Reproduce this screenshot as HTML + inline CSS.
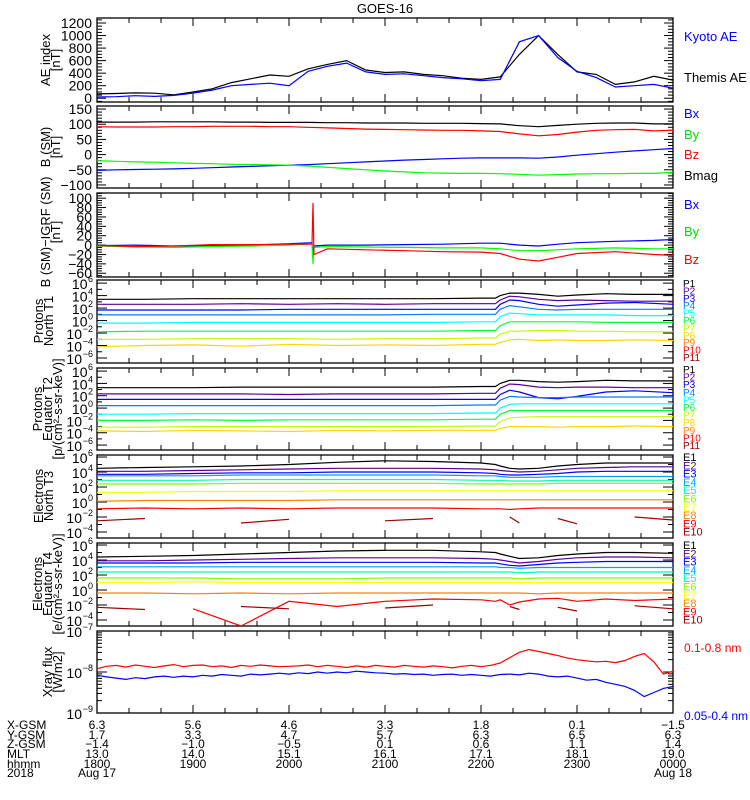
<!DOCTYPE html>
<html><head><meta charset="utf-8"><title>GOES-16</title>
<style>
html,body{margin:0;padding:0;background:#fff;}
svg{display:block;font-family:"Liberation Sans",sans-serif;}
</style></head>
<body>
<svg id="chart" width="750" height="800" viewBox="0 0 750 800" xmlns="http://www.w3.org/2000/svg"></svg>
<script>
// ---------- data ----------
const tA = [18.0,18.2,18.4,18.6,18.8,19.0,19.2,19.4,19.6,19.8,20.0,20.2,20.4,20.6,20.8,21.0,21.2,21.4,21.6,21.8,22.0,22.2,22.4,22.6,22.8,23.0,23.2,23.4,23.6,23.8,24.0];
const themisAE = [70,75,85,80,55,100,150,250,310,370,350,470,540,600,450,410,420,380,360,320,300,340,700,1000,700,420,380,220,260,350,290];
const kyotoAE  = [20,25,40,30,45,80,130,200,220,240,200,430,510,560,420,380,390,360,330,310,280,300,900,1000,650,430,330,180,200,220,160];

const bmagSM = [107,107,107,108,108,108,108,107,107,106,106,106,105,105,104,104,104,103,103,103,102,101,95,92,96,100,103,104,104,101,101];
const bzSM   = [92,91,91,91,92,92,93,93,93,92,92,90,88,86,84,83,82,81,80,80,78,76,68,62,66,74,80,82,83,78,80];
const bxSM   = [-52,-50,-49,-48,-47,-45,-43,-41,-39,-37,-35,-33,-30,-27,-24,-21,-18,-16,-14,-12,-11,-11,-11,-12,-8,-2,3,8,12,16,20];
const bySM   = [-20,-22,-24,-25,-27,-29,-30,-32,-33,-34,-35,-38,-42,-46,-50,-54,-57,-60,-61,-62,-62,-63,-65,-68,-66,-64,-63,-63,-62,-62,-58];

const t3 = [18,18.4,18.8,19.2,19.6,20.0,20.24,20.25,20.26,20.4,20.8,21.2,21.6,22.0,22.2,22.4,22.6,22.8,23.0,23.4,23.8,24];
const dBz = [-1,-3,-2,1,1,2,2,90,-20,-8,-10,-12,-14,-15,-18,-30,-34,-26,-18,-14,-20,-22];
const dBy = [-2,-4,-5,-3,-2,0,3,-40,-5,-3,-4,-5,-6,-6,-8,-12,-12,-10,-8,-6,-8,-8];
const dBx = [-1,0,-2,-1,0,3,5,-20,-2,0,0,1,2,4,4,0,-2,2,5,8,10,12];

const tL = [18,18.5,19,19.5,20,20.5,21,21.5,22,22.15,22.2,22.3,22.4,22.6,22.8,23,23.3,23.6,24];
const pT1_1 = [3.4,3.4,3.5,3.5,3.5,3.5,3.5,3.5,3.6,3.6,4.0,4.4,4.4,4.2,3.9,4.1,4.3,4.2,4.2];
const pT1_2 = [2.6,2.6,2.6,2.7,2.6,2.7,2.6,2.7,2.7,2.7,3.3,3.9,3.8,3.4,3.2,3.3,3.2,3.1,3.1];
const pT1_3 = [1.7,1.7,1.7,1.7,1.8,1.8,1.8,1.8,1.8,1.8,2.6,3.3,3.2,2.6,2.3,2.5,2.8,2.9,2.6];
const pT1_4 = [0.9,0.9,0.9,0.9,0.9,0.9,0.9,1.0,1.0,1.0,1.8,2.4,2.2,1.8,1.7,1.8,1.8,1.8,1.8];
const pT1_5 = [-0.4,-0.4,-0.3,-0.3,-0.3,-0.3,-0.3,-0.3,-0.2,-0.2,0.6,1.2,1.1,0.9,0.9,0.9,0.9,0.8,0.8];
const pT1_6 = [-1.8,-1.7,-1.7,-1.7,-1.7,-1.7,-1.7,-1.7,-1.6,-1.6,-0.8,-0.2,-0.2,-0.2,-0.2,-0.2,-0.3,-0.3,-0.3];
const pT1_7 = [-3.0,-3.0,-2.9,-2.9,-2.9,-3.0,-2.9,-2.9,-2.8,-2.8,-2.2,-1.7,-1.7,-1.6,-1.6,-1.7,-1.7,-1.8,-1.8];
const pT1_8 = [-4.2,-4.0,-3.9,-4.1,-3.8,-4.0,-3.9,-4.0,-3.8,-3.8,-3.5,-3.1,-3.0,-3.2,-3.1,-3.2,-3.2,-3.1,-3.2];
const pT2_1 = [3.3,3.3,3.3,3.4,3.4,3.4,3.4,3.4,3.5,3.5,4.0,4.5,4.5,4.3,4.2,4.3,4.5,4.4,4.4];
const pT2_2 = [2.3,2.3,2.3,2.3,2.2,2.3,2.3,2.3,2.4,2.4,3.2,3.9,3.8,3.4,3.3,3.4,3.4,3.3,3.3];
const pT2_3 = [1.4,1.4,1.4,1.4,1.4,1.4,1.4,1.4,1.4,1.4,2.2,2.9,2.6,1.7,1.5,1.9,2.6,2.8,2.5];
const pT2_4 = [0.4,0.4,0.4,0.4,0.4,0.4,0.4,0.4,0.5,0.5,1.3,1.9,1.8,1.7,1.7,1.8,1.8,1.8,1.8];
const pT2_5 = [-1.0,-1.0,-0.9,-0.9,-0.9,-0.9,-0.9,-0.9,-0.8,-0.8,0.0,0.6,0.7,0.7,0.7,0.7,0.7,0.7,0.7];
const pT2_6 = [-2.0,-2.0,-1.9,-2.0,-1.9,-1.9,-1.9,-1.9,-1.8,-1.8,-1.0,-0.4,-0.4,-0.4,-0.4,-0.4,-0.4,-0.4,-0.4];
const pT2_7 = [-3.1,-3.1,-3.0,-3.0,-3.0,-3.0,-3.0,-3.0,-2.9,-2.9,-2.2,-1.6,-1.5,-1.4,-1.4,-1.4,-1.4,-1.4,-1.4];
const pT2_8 = [-3.7,-3.8,-3.6,-3.7,-3.8,-3.6,-3.7,-3.6,-3.6,-3.6,-3.3,-3.0,-3.0,-3.0,-3.1,-3.0,-3.0,-2.9,-3.0];
const eT3_1 = [4.5,4.6,4.7,4.8,5.0,5.3,5.5,5.4,5.2,5.0,4.8,4.5,4.4,4.5,4.8,5.0,5.2,5.2,5.2];
const eT3_2 = [4.1,4.1,4.2,4.3,4.4,4.5,4.5,4.5,4.4,4.3,4.2,4.1,4.0,4.1,4.3,4.5,4.6,4.7,4.7];
const eT3_3 = [3.7,3.7,3.8,3.9,3.9,4.0,4.0,4.0,3.9,3.8,3.7,3.6,3.6,3.7,3.8,4.0,4.1,4.1,4.1];
const eT3_4 = [3.5,3.5,3.5,3.6,3.6,3.6,3.6,3.6,3.5,3.5,3.4,3.3,3.3,3.3,3.4,3.4,3.4,3.4,3.4];
const eT3_5 = [2.9,2.9,2.9,3.0,3.0,3.0,3.0,3.0,2.9,2.9,2.9,2.8,2.8,2.8,2.9,2.9,2.9,2.9,2.9];
const eT3_6 = [2.4,2.4,2.4,2.5,2.5,2.5,2.5,2.5,2.4,2.4,2.4,2.4,2.4,2.4,2.5,2.5,2.5,2.5,2.5];
const eT3_7 = [1.3,1.3,1.4,1.4,1.4,1.5,1.5,1.5,1.5,1.5,1.5,1.5,1.5,1.5,1.5,1.5,1.5,1.5,1.5];
const eT3_8 = [0.1,0.2,0.2,0.2,0.2,0.3,0.3,0.3,0.3,0.3,0.3,0.3,0.3,0.3,0.3,0.3,0.3,0.3,0.3];
const eT3_9 = [-0.9,-0.8,-0.9,-0.8,-0.9,-0.8,-0.8,-0.8,-0.9,-0.9,-0.9,-1.0,-0.9,-0.8,-0.8,-0.8,-0.8,-0.8,-0.8];
const eT3_10 = [-2.5,-2.2,null,-2.8,-2.3,null,-2.5,-2.2,null,-2.6,null,-2.0,-2.8,null,-2.2,-2.9,null,-2.0,-2.4];
const eT4_1 = [4.4,4.5,4.6,4.8,5.0,5.2,5.3,5.3,5.1,5.0,4.8,4.5,4.2,4.3,4.6,4.8,5.0,5.0,4.9];
const eT4_2 = [3.9,3.9,4.0,4.1,4.2,4.3,4.3,4.3,4.2,4.1,4.0,3.8,3.6,3.8,4.1,4.3,4.4,4.4,4.3];
const eT4_3 = [3.6,3.6,3.6,3.7,3.7,3.7,3.7,3.7,3.6,3.6,3.5,3.3,3.2,3.4,3.6,3.7,3.8,3.8,3.8];
const eT4_4 = [3.1,3.1,3.1,3.1,3.1,3.1,3.1,3.1,3.1,3.1,3.0,3.0,2.9,3.0,3.0,3.0,3.0,3.0,3.0];
const eT4_5 = [2.4,2.4,2.4,2.4,2.4,2.4,2.4,2.4,2.4,2.4,2.4,2.4,2.3,2.4,2.4,2.4,2.4,2.4,2.4];
const eT4_6 = [1.6,1.6,1.6,1.5,1.5,1.5,1.6,1.6,1.6,1.6,1.6,1.6,1.5,1.6,1.6,1.6,1.6,1.6,1.6];
const eT4_7 = [1.0,1.0,1.1,1.0,1.0,1.0,1.0,1.0,1.0,1.0,1.0,1.0,1.0,1.0,1.0,1.0,1.0,1.0,1.0];
const eT4_8 = [-0.4,-0.4,-0.5,-0.4,-0.5,-0.4,-0.4,-0.4,-0.4,-0.4,-0.4,-0.4,-0.4,-0.5,-0.4,-0.4,-0.4,-0.4,-0.4];
const eT4_9 = [-2.0,null,-2.5,-4.8,-1.5,-2.2,-1.5,-1.2,-1.3,-1.5,-1.3,-2.0,-1.6,-1.2,-1.1,-1.5,-1.2,-1.4,-1.2];
const eT4_10 = [-2.3,-2.6,null,-2.2,-2.5,null,-2.4,-2.0,null,-2.7,null,-2.2,-2.6,null,-2.3,-2.8,null,-2.1,-2.5];

const tX = [18.0,18.1,18.2,18.3,18.4,18.5,18.6,18.7,18.8,18.9,19.0,19.1,19.2,19.3,19.4,19.5,19.6,19.7,19.8,19.9,20.0,20.1,20.2,20.3,20.4,20.5,20.6,20.7,20.8,20.9,21.0,21.1,21.2,21.3,21.4,21.5,21.6,21.7,21.8,21.9,22.0,22.1,22.2,22.3,22.4,22.5,22.6,22.7,22.8,22.9,23.0,23.1,23.2,23.3,23.4,23.5,23.6,23.7,23.8,23.9,24.0];
const xrayLong = [-7.92,-7.86,-7.84,-7.88,-7.83,-7.86,-7.89,-7.85,-7.82,-7.87,
 -7.84,-7.83,-7.87,-7.85,-7.89,-7.84,-7.86,-7.83,-7.85,-7.87,
 -7.86,-7.85,-7.83,-7.87,-7.84,-7.86,-7.89,-7.85,-7.88,-7.84,
 -7.86,-7.88,-7.84,-7.86,-7.88,-7.85,-7.87,-7.9,-7.86,-7.84,
 -7.87,-7.84,-7.78,-7.65,-7.52,-7.45,-7.5,-7.55,-7.6,-7.66,
 -7.7,-7.73,-7.75,-7.74,-7.77,-7.72,-7.62,-7.55,-7.75,-8.05,-7.98];
const xrayShort = [-8.08,-8.12,-8.15,-8.18,-8.14,-8.16,-8.12,-8.1,-8.13,-8.1,
 -8.12,-8.08,-8.1,-8.06,-8.08,-8.1,-8.05,-8.07,-8.05,-8.03,
 -8.05,-8.02,-8.04,-8.0,-8.03,-8.0,-8.02,-7.98,-8.0,-8.02,
 -8.03,-8.05,-8.04,-8.06,-8.05,-8.08,-8.06,-8.05,-8.08,-8.06,
 -8.08,-8.1,-8.06,-8.05,-8.07,-8.03,-8.05,-8.1,-8.12,-8.1,
 -8.15,-8.2,-8.18,-8.25,-8.3,-8.35,-8.45,-8.6,-8.5,-8.4,-8.35];

const tickHours = [18,19,20,21,22,23,24];
const rowNames = ["X-GSM","Y-GSM","Z-GSM","MLT","hhmm","2018"];
const xgsm = ["6.3","5.6","4.6","3.3","1.8","0.1","-1.5"];
const ygsm = ["1.7","3.3","4.7","5.7","6.3","6.5","6.3"];
const zgsm = ["-1.4","-1.0","-0.5","0.1","0.6","1.1","1.4"];
const mlt  = ["13.0","14.0","15.1","16.1","17.1","18.1","19.0"];
const hhmm = ["1800","1900","2000","2100","2200","2300","0000"];
const dates = ["Aug 17","","","","","","Aug 18"];

const PC = ["#000000","#5a0096","#0000ff","#0080ff","#00ffff","#00ff40","#c0ff00","#ffd700","#ff8000","#ff0000","#a00000"];
const EC = ["#000000","#5a0096","#0000ff","#00a0ff","#00ffb0","#80ff00","#ffff00","#ff8000","#ff0000","#a00000"];

// ---------- drawing ----------
const NS = "http://www.w3.org/2000/svg";
const svg = document.getElementById("chart");
const L = 97, R = 673;
const X = h => L + (h - 18) * (R - L) / 6;
function el(tag, attrs, parent){ const e = document.createElementNS(NS, tag); for (const k in attrs) e.setAttribute(k, attrs[k]); (parent||svg).appendChild(e); return e; }
function txt(x, y, s, opts, parent){
  const e = el("text", Object.assign({x:x, y:y, "font-size":13, fill:"#000"}, opts||{}), parent);
  e.textContent = s; return e;
}

const panels = [
 {id:"ae", top:18, bot:102, min:-60, max:1280, type:"lin", major:200, minor:50, labels:[0,200,400,600,800,1000,1200]},
 {id:"bsm", top:106, bot:188, min:-110, max:160, type:"lin", major:50, minor:10, labels:[-100,-50,0,50,100,150]},
 {id:"bigrf", top:193, bot:277, min:-68, max:111, type:"lin", major:20, minor:5, labels:[-60,-40,-20,0,20,40,60,80,100]},
 {id:"pt1", top:280, bot:363, min:-6.8, max:6.5, type:"log", labels:[-6,-4,-2,0,2,4,6]},
 {id:"pt2", top:368, bot:450, min:-6.8, max:6.5, type:"log", labels:[-6,-4,-2,0,2,4,6]},
 {id:"et3", top:455, bot:538, min:-4.8, max:6.27, type:"log", labels:[-4,-2,0,2,4,6]},
 {id:"et4", top:543, bot:626, min:-4.8, max:6.27, type:"log", labels:[-4,-2,0,2,4,6]},
 {id:"xray", top:631, bot:713, min:-9, max:-7, type:"logfine", labels:[-9,-8,-7]}
];
function Yf(p){ return v => p.top + (p.max - v) / (p.max - p.min) * (p.bot - p.top); }

txt(385, 13, "GOES-16", {"text-anchor":"middle",  });

const defs = el("defs", {});
panels.forEach(p => {
  const g = el("g", {});
  
  
  p.g = g;
  const cp = el("clipPath", {id:"clip-" + p.id}, defs);
  el("rect", {x:L, y:p.top, width:R-L, height:p.bot-p.top}, cp);
  const Y = Yf(p);
  const tk = [];
  if (p.type === "lin") {
    for (let v = Math.ceil(p.min/p.minor)*p.minor; v <= p.max; v += p.minor) {
      const isMaj = Math.abs(v % p.major) < 1e-6;
      tk.push([Y(v), isMaj ? 9 : 5]);
    }
  } else if (p.type === "log") {
    for (let v = Math.ceil(p.min); v <= p.max; v++) tk.push([Y(v), (v % 2 === 0) ? 10 : 5]);
  } else {
    for (let d = -9; d < -7; d++) for (let m = 1; m < 10; m++) {
      const v = d + Math.log10(m); tk.push([Y(v), m === 1 ? 10 : 5]);
    }
  }
  tk.forEach(([y, len]) => {
    el("line", {x1:L, y1:y, x2:L+len, y2:y, stroke:"#000", "stroke-width":1}, g);
    el("line", {x1:R, y1:y, x2:R-len, y2:y, stroke:"#000", "stroke-width":1}, g);
  });
  for (let m = 0; m <= 360; m += 20) {
    const x = X(18 + m/60), len = (m % 60 === 0) ? 8 : 5;
    el("line", {x1:x, y1:p.bot, x2:x, y2:p.bot-len, stroke:"#000"}, g);
    el("line", {x1:x, y1:p.top, x2:x, y2:p.top+len, stroke:"#000"}, g);
  }
  p.labels.forEach(v => {
    const y = Y(v);
    if (p.type === "lin") {
      txt(L-5, y+5, String(v).replace("-", "\u2212"), {"text-anchor":"end", "font-size":14,  }, g);
    } else {
      const ex = String(v).replace("-", "\u2212");
      const ew = ex.length * 5.5;
      txt(L-4-ew, y+6, "10", {"text-anchor":"end", "font-size":14,  }, g);
      txt(L-4, y-1, ex, {"text-anchor":"end", "font-size":9,  }, g);
    }
  });
  el("rect", {x:L, y:p.top, width:R-L, height:p.bot-p.top, fill:"none", stroke:"#000", "stroke-width":1.3}, g);
});

function series(p, ts, vs, color, name){
  const Y = Yf(p);
  let d = "", pen = false;
  for (let i = 0; i < ts.length; i++) {
    if (vs[i] === null) { pen = false; continue; }
    d += (pen ? "L" : "M") + X(ts[i]).toFixed(1) + " " + Y(vs[i]).toFixed(1) + " ";
    pen = true;
  }
  const e = el("path", {d:d, fill:"none", stroke:color, "stroke-width":1.2, "clip-path":"url(#clip-" + p.id + ")"}, p.g);
  
  
  return e;
}
const P = {}; panels.forEach(p => P[p.id] = p);

series(P.ae, tA, themisAE, "#000", "themis-ae-line");
series(P.ae, tA, kyotoAE, "#0000ff", "kyoto-ae-line");
series(P.bsm, tA, bmagSM, "#000", "bmag-line");
series(P.bsm, tA, bzSM, "#ff0000", "bz-line");
series(P.bsm, tA, bxSM, "#0000ff", "bx-line");
series(P.bsm, tA, bySM, "#00ff00", "by-line");
series(P.bigrf, t3, dBx, "#0000ff", "dbx-line");
series(P.bigrf, t3, dBy, "#00ff00", "dby-line");
series(P.bigrf, t3, dBz, "#ff0000", "dbz-line");
[pT1_1,pT1_2,pT1_3,pT1_4,pT1_5,pT1_6,pT1_7,pT1_8].forEach((s,i) => series(P.pt1, tL, s, PC[i], "proton-t1-p" + (i+1)));
[pT2_1,pT2_2,pT2_3,pT2_4,pT2_5,pT2_6,pT2_7,pT2_8].forEach((s,i) => series(P.pt2, tL, s, PC[i], "proton-t2-p" + (i+1)));
[eT3_1,eT3_2,eT3_3,eT3_4,eT3_5,eT3_6,eT3_7,eT3_8,eT3_9,eT3_10].forEach((s,i) => series(P.et3, tL, s, EC[i], "electron-t3-e" + (i+1)));
[eT4_1,eT4_2,eT4_3,eT4_4,eT4_5,eT4_6,eT4_7,eT4_8,eT4_9,eT4_10].forEach((s,i) => series(P.et4, tL, s, EC[i], "electron-t4-e" + (i+1)));
series(P.xray, tX, xrayLong, "#ff0000", "xray-long-line");
series(P.xray, tX, xrayShort, "#0000ff", "xray-short-line");

const LX = 684;
function leg(x, y, s, c, fs){ return txt(x, y, s, {fill:c, "font-size":fs||13,  }); }
leg(LX, 41, "Kyoto AE", "#0000ff");
leg(LX, 82, "Themis AE", "#000");
leg(LX, 118, "Bx", "#0000ff"); leg(LX, 139, "By", "#00e000"); leg(LX, 159, "Bz", "#ff0000"); leg(LX, 180, "Bmag", "#000");
leg(LX, 209, "Bx", "#0000ff"); leg(LX, 236, "By", "#00e000"); leg(LX, 264, "Bz", "#ff0000");
for (let i = 0; i < 11; i++) { leg(683, 287 + i*7.4, "P" + (i+1), PC[i], 10); leg(683, 373 + i*7.6, "P" + (i+1), PC[i], 10); }
for (let i = 0; i < 10; i++) { leg(683, 461 + i*8.3, "E" + (i+1), EC[i], 11); leg(683, 549 + i*8.3, "E" + (i+1), EC[i], 11); }
leg(684, 652, "0.1-0.8 nm", "#ff0000", 12);
leg(684, 720, "0.05-0.4 nm", "#0000ff", 12);

function ytitle(lines, xs, cy, fs){
  lines.forEach((s, i) => {
    txt(0, 0, s, {"text-anchor":"middle", "font-size":fs||13, transform:"translate(" + xs[i] + "," + cy + ") rotate(-90)",  });
  });
}
ytitle(["AE index","[nT]"], [50,60], 60);
ytitle(["B (SM)","[nT]"], [50,60], 147);
ytitle(["B (SM)\u2212IGRF (SM)","[nT]"], [50,60], 232);
ytitle(["Protons","North T1"], [43,53], 321);
ytitle(["Protons","Equator T2","[p/(cm\u00b2-s-sr-keV)]"], [42,52,62], 409);
ytitle(["Electrons","North T3"], [43,53], 496);
ytitle(["Electrons","Equator T4","[e/(cm\u00b2-s-sr-keV)]"], [42,52,62], 584);
ytitle(["Xray flux","[W/m2]"], [52,62], 672);

const rows = [xgsm, ygsm, zgsm, mlt, hhmm, dates];
const rowY = [729, 739, 748, 758, 768, 777];
rowNames.forEach((n, r) => {
  txt(7, rowY[r], n, {"font-size":12,  });
  rows[r].forEach((v, i) => {
    if (!v) return;
    txt(X(tickHours[i]), rowY[r], v.replace("-", "\u2212"), {"font-size":12, "text-anchor":"middle",  });
  });
});
</script>
</body></html>
